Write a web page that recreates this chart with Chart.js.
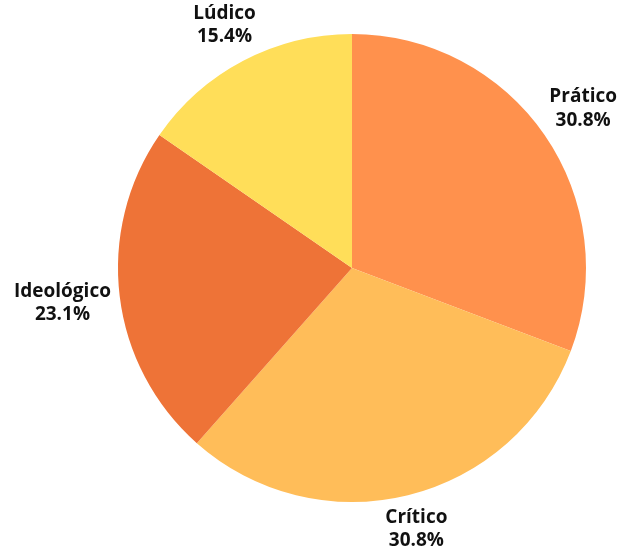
<!DOCTYPE html>
<html>
<head>
<meta charset="utf-8">
<style>
  html, body { margin: 0; padding: 0; background: #ffffff; }
  #wrap { width: 618px; height: 549px; }
</style>
<script src="https://cdn.jsdelivr.net/npm/chart.js@4.4.1/dist/chart.umd.min.js"></script>
</head>
<body>
<div id="wrap"><canvas id="grafico"></canvas></div>
<script>
// categorias e valores (%)
const categorias = ["Prático", "Crítico", "Ideológico", "Lúdico"];
const valores = [30.8, 30.8, 23.1, 15.4];
const cores = ["#FF914D", "#FFBD59", "#EE7337", "#FFDE59"];

// rótulos fora da pizza, no ângulo médio de cada fatia
const rotulosExternos = {
  id: "rotulosExternos",
  afterDraw(chart) {
    const ctx = chart.ctx;
    const meta = chart.getDatasetMeta(0);
    const linha = 23.5;
    const folga = 7;
    ctx.save();
    ctx.font = "bold 19px 'Open Sans'";
    ctx.fillStyle = "#111111";
    ctx.textAlign = "center";
    ctx.textBaseline = "middle";
    meta.data.forEach((arco, i) => {
      const p = arco.getProps(["x", "y", "startAngle", "endAngle", "outerRadius"], true);
      const meio = (p.startAngle + p.endAngle) / 2;
      const l1 = categorias[i];
      const l2 = valores[i].toFixed(1) + "%";
      const w = Math.max(ctx.measureText(l1).width, ctx.measureText(l2).width);
      const h = linha + 19;
      const c = Math.cos(meio), s = Math.sin(meio);
      const d = p.outerRadius + folga + Math.abs(c) * w / 2 + Math.abs(s) * h / 2;
      const x = p.x + c * d;
      const y = p.y + s * d;
      ctx.fillText(l1, x, y - linha / 2);
      ctx.fillText(l2, x, y + linha / 2);
    });
    ctx.restore();
  }
};

new Chart(document.getElementById("grafico"), {
  type: "pie",
  data: {
    labels: categorias,
    datasets: [{
      data: valores,
      backgroundColor: cores,
      borderWidth: 0
    }]
  },
  options: {
    responsive: true,
    maintainAspectRatio: false,
    animation: false,
    layout: { padding: { top: 34, bottom: 47, left: 118, right: 32 } },
    plugins: {
      legend: { display: false },
      tooltip: { enabled: false }
    }
  },
  plugins: [rotulosExternos]
});
</script>
</body>
</html>
